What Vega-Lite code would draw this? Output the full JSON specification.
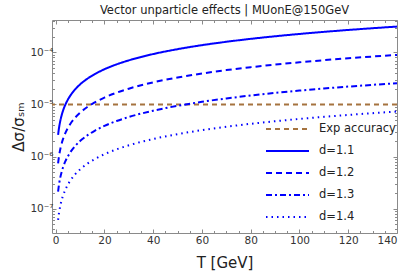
{
  "$schema": "https://vega.github.io/schema/vega-lite/v6.json",
  "width": 345,
  "height": 213,
  "autosize": "none",
  "padding": {"left": 52, "top": 20, "right": 10, "bottom": 43},
  "title": {"text": "Vector unparticle effects | MUonE@150GeV", "fontSize": 11.5, "font": "DejaVu Sans", "fontWeight": "normal", "color": "#222", "anchor": "middle", "frame": "group", "offset": 3},
  "config": {
    "view": {"stroke": "#8a8a8a", "strokeWidth": 1},
    "font": "DejaVu Sans",
    "axis": {"domain": false, "grid": false, "labelFont": "DejaVu Sans", "labelColor": "#333", "labelFontSize": 10.5, "tickColor": "#8a8a8a", "titleFont": "DejaVu Sans", "titleFontWeight": "normal", "titleColor": "#222", "titleFontSize": 15}
  },
  "datasets": {
    "curves": [
      {"T": 1, "v": 2.60e-6, "series": "d=1.1"},
      {"T": 1.25, "v": 3.23e-6, "series": "d=1.1"},
      {"T": 1.5, "v": 3.85e-6, "series": "d=1.1"},
      {"T": 2, "v": 5.09e-6, "series": "d=1.1"},
      {"T": 2.5, "v": 6.32e-6, "series": "d=1.1"},
      {"T": 3, "v": 7.55e-6, "series": "d=1.1"},
      {"T": 4, "v": 9.98e-6, "series": "d=1.1"},
      {"T": 5, "v": 1.239e-5, "series": "d=1.1"},
      {"T": 6, "v": 1.478e-5, "series": "d=1.1"},
      {"T": 8, "v": 1.954e-5, "series": "d=1.1"},
      {"T": 10, "v": 2.426e-5, "series": "d=1.1"},
      {"T": 13, "v": 3.130e-5, "series": "d=1.1"},
      {"T": 16, "v": 3.828e-5, "series": "d=1.1"},
      {"T": 20, "v": 4.753e-5, "series": "d=1.1"},
      {"T": 25, "v": 5.901e-5, "series": "d=1.1"},
      {"T": 30, "v": 7.044e-5, "series": "d=1.1"},
      {"T": 40, "v": 9.311e-5, "series": "d=1.1"},
      {"T": 50, "v": 1.156e-4, "series": "d=1.1"},
      {"T": 60, "v": 1.380e-4, "series": "d=1.1"},
      {"T": 70, "v": 1.602e-4, "series": "d=1.1"},
      {"T": 80, "v": 1.824e-4, "series": "d=1.1"},
      {"T": 90, "v": 2.044e-4, "series": "d=1.1"},
      {"T": 100, "v": 2.265e-4, "series": "d=1.1"},
      {"T": 110, "v": 2.484e-4, "series": "d=1.1"},
      {"T": 120, "v": 2.703e-4, "series": "d=1.1"},
      {"T": 130, "v": 2.921e-4, "series": "d=1.1"},
      {"T": 140, "v": 3.138e-4, "series": "d=1.1"},
      {"T": 1, "v": 7.43e-7, "series": "d=1.2"},
      {"T": 1.25, "v": 9.22e-7, "series": "d=1.2"},
      {"T": 1.5, "v": 1.10e-6, "series": "d=1.2"},
      {"T": 2, "v": 1.455e-6, "series": "d=1.2"},
      {"T": 2.5, "v": 1.807e-6, "series": "d=1.2"},
      {"T": 3, "v": 2.156e-6, "series": "d=1.2"},
      {"T": 4, "v": 2.851e-6, "series": "d=1.2"},
      {"T": 5, "v": 3.539e-6, "series": "d=1.2"},
      {"T": 6, "v": 4.224e-6, "series": "d=1.2"},
      {"T": 8, "v": 5.584e-6, "series": "d=1.2"},
      {"T": 10, "v": 6.933e-6, "series": "d=1.2"},
      {"T": 13, "v": 8.942e-6, "series": "d=1.2"},
      {"T": 16, "v": 1.094e-5, "series": "d=1.2"},
      {"T": 20, "v": 1.358e-5, "series": "d=1.2"},
      {"T": 25, "v": 1.686e-5, "series": "d=1.2"},
      {"T": 30, "v": 2.013e-5, "series": "d=1.2"},
      {"T": 40, "v": 2.660e-5, "series": "d=1.2"},
      {"T": 50, "v": 3.303e-5, "series": "d=1.2"},
      {"T": 60, "v": 3.942e-5, "series": "d=1.2"},
      {"T": 70, "v": 4.578e-5, "series": "d=1.2"},
      {"T": 80, "v": 5.211e-5, "series": "d=1.2"},
      {"T": 90, "v": 5.841e-5, "series": "d=1.2"},
      {"T": 100, "v": 6.470e-5, "series": "d=1.2"},
      {"T": 110, "v": 7.097e-5, "series": "d=1.2"},
      {"T": 120, "v": 7.722e-5, "series": "d=1.2"},
      {"T": 130, "v": 8.346e-5, "series": "d=1.2"},
      {"T": 140, "v": 8.967e-5, "series": "d=1.2"},
      {"T": 1, "v": 2.12e-7, "series": "d=1.3"},
      {"T": 1.25, "v": 2.64e-7, "series": "d=1.3"},
      {"T": 1.5, "v": 3.15e-7, "series": "d=1.3"},
      {"T": 2, "v": 4.16e-7, "series": "d=1.3"},
      {"T": 2.5, "v": 5.16e-7, "series": "d=1.3"},
      {"T": 3, "v": 6.16e-7, "series": "d=1.3"},
      {"T": 4, "v": 8.14e-7, "series": "d=1.3"},
      {"T": 5, "v": 1.011e-6, "series": "d=1.3"},
      {"T": 6, "v": 1.207e-6, "series": "d=1.3"},
      {"T": 8, "v": 1.595e-6, "series": "d=1.3"},
      {"T": 10, "v": 1.981e-6, "series": "d=1.3"},
      {"T": 13, "v": 2.555e-6, "series": "d=1.3"},
      {"T": 16, "v": 3.125e-6, "series": "d=1.3"},
      {"T": 20, "v": 3.880e-6, "series": "d=1.3"},
      {"T": 25, "v": 4.818e-6, "series": "d=1.3"},
      {"T": 30, "v": 5.750e-6, "series": "d=1.3"},
      {"T": 40, "v": 7.601e-6, "series": "d=1.3"},
      {"T": 50, "v": 9.437e-6, "series": "d=1.3"},
      {"T": 60, "v": 1.1263e-5, "series": "d=1.3"},
      {"T": 70, "v": 1.308e-5, "series": "d=1.3"},
      {"T": 80, "v": 1.489e-5, "series": "d=1.3"},
      {"T": 90, "v": 1.669e-5, "series": "d=1.3"},
      {"T": 100, "v": 1.849e-5, "series": "d=1.3"},
      {"T": 110, "v": 2.028e-5, "series": "d=1.3"},
      {"T": 120, "v": 2.206e-5, "series": "d=1.3"},
      {"T": 130, "v": 2.385e-5, "series": "d=1.3"},
      {"T": 140, "v": 2.562e-5, "series": "d=1.3"},
      {"T": 1, "v": 6.06e-8, "series": "d=1.4"},
      {"T": 1.25, "v": 7.53e-8, "series": "d=1.4"},
      {"T": 1.5, "v": 8.99e-8, "series": "d=1.4"},
      {"T": 2, "v": 1.188e-7, "series": "d=1.4"},
      {"T": 2.5, "v": 1.475e-7, "series": "d=1.4"},
      {"T": 3, "v": 1.761e-7, "series": "d=1.4"},
      {"T": 4, "v": 2.328e-7, "series": "d=1.4"},
      {"T": 5, "v": 2.890e-7, "series": "d=1.4"},
      {"T": 6, "v": 3.449e-7, "series": "d=1.4"},
      {"T": 8, "v": 4.559e-7, "series": "d=1.4"},
      {"T": 10, "v": 5.661e-7, "series": "d=1.4"},
      {"T": 13, "v": 7.301e-7, "series": "d=1.4"},
      {"T": 16, "v": 8.931e-7, "series": "d=1.4"},
      {"T": 20, "v": 1.109e-6, "series": "d=1.4"},
      {"T": 25, "v": 1.377e-6, "series": "d=1.4"},
      {"T": 30, "v": 1.643e-6, "series": "d=1.4"},
      {"T": 40, "v": 2.172e-6, "series": "d=1.4"},
      {"T": 50, "v": 2.697e-6, "series": "d=1.4"},
      {"T": 60, "v": 3.219e-6, "series": "d=1.4"},
      {"T": 70, "v": 3.738e-6, "series": "d=1.4"},
      {"T": 80, "v": 4.255e-6, "series": "d=1.4"},
      {"T": 90, "v": 4.770e-6, "series": "d=1.4"},
      {"T": 100, "v": 5.283e-6, "series": "d=1.4"},
      {"T": 110, "v": 5.795e-6, "series": "d=1.4"},
      {"T": 120, "v": 6.305e-6, "series": "d=1.4"},
      {"T": 130, "v": 6.814e-6, "series": "d=1.4"},
      {"T": 140, "v": 7.322e-6, "series": "d=1.4"}
    ],
    "accuracy": [{"series": "Exp accuracy", "v": 1e-5}]
  },
  "resolve": {"axis": {"x": "independent", "y": "independent"}},
  "layer": [
    {
      "data": {"name": "accuracy"},
      "mark": {"type": "rule", "strokeWidth": 2},
      "encoding": {
        "y": {"field": "v", "type": "quantitative", "scale": {"type": "log", "domain": [3.4e-8, 4.2e-4], "nice": false}, "axis": null},
        "color": {"field": "series", "type": "nominal", "scale": {"domain": ["Exp accuracy", "d=1.1", "d=1.2", "d=1.3", "d=1.4"], "range": ["#a5733f", "#0000ff", "#0000ff", "#0000ff", "#0000ff"]}, "legend": {"title": null, "orient": "none", "legendX": 229.5, "legendY": 103, "symbolType": "M-4.3,0L4.3,0", "symbolSize": 100, "symbolStrokeWidth": 2, "labelFontSize": 11.5, "labelColor": "#222", "labelOffset": 25.5, "rowPadding": 10}},
        "strokeDash": {"field": "series", "type": "nominal", "scale": {"domain": ["Exp accuracy", "d=1.1", "d=1.2", "d=1.3", "d=1.4"], "range": [[5, 4], [1, 0], [6, 4], [6, 3, 2, 3], [1.5, 4]]}, "legend": {"title": null, "orient": "none", "legendX": 229.5, "legendY": 103, "symbolType": "M-4.3,0L4.3,0", "symbolSize": 100, "symbolStrokeWidth": 2, "labelFontSize": 11.5, "labelColor": "#222", "labelOffset": 25.5, "rowPadding": 10}}
      }
    },
    {
      "data": {"name": "curves"},
      "mark": {"type": "line", "strokeWidth": 2, "interpolate": "monotone", "clip": true},
      "encoding": {
        "x": {"field": "T", "type": "quantitative", "title": "T [GeV]", "scale": {"domain": [-1.5, 140], "nice": false, "zero": false},
          "axis": {"orient": "bottom", "values": [0,5,10,15,20,25,30,35,40,45,50,55,60,65,70,75,80,85,90,95,100,105,110,115,120,125,130,135,140], "labelExpr": "datum.value % 20 === 0 ? datum.label : ''", "tickSize": {"condition": {"test": "datum.value % 20 === 0", "value": -4}, "value": -2.5}, "labelPadding": 6, "titlePadding": 10}},
        "y": {"field": "v", "type": "quantitative", "title": "Δσ/σₛₘ", "scale": {"type": "log", "domain": [3.4e-8, 4.2e-4], "nice": false},
          "axis": {"orient": "left", "values": [4e-8,5e-8,6e-8,7e-8,8e-8,9e-8,1e-7,2e-7,3e-7,4e-7,5e-7,6e-7,7e-7,8e-7,9e-7,1e-6,2e-6,3e-6,4e-6,5e-6,6e-6,7e-6,8e-6,9e-6,1e-5,2e-5,3e-5,4e-5,5e-5,6e-5,7e-5,8e-5,9e-5,1e-4,2e-4,3e-4,4e-4],
            "labelExpr": "datum.value == 1e-7 ? '10⁻⁷' : datum.value == 1e-6 ? '10⁻⁶' : datum.value == 1e-5 ? '10⁻⁵' : datum.value == 1e-4 ? '10⁻⁴' : ''",
            "tickSize": {"condition": {"test": "datum.value == 1e-7 || datum.value == 1e-6 || datum.value == 1e-5 || datum.value == 1e-4", "value": -4}, "value": -2.5}, "labelPadding": 3, "titlePadding": 3}},
        "color": {"field": "series", "type": "nominal"},
        "strokeDash": {"field": "series", "type": "nominal"}
      }
    },
    {
      "data": {"name": "curves"},
      "mark": {"type": "point", "opacity": 0},
      "encoding": {
        "x": {"field": "T", "type": "quantitative", "scale": {"domain": [-1.5, 140], "nice": false, "zero": false},
          "axis": {"orient": "top", "title": null, "labels": false, "values": [0,5,10,15,20,25,30,35,40,45,50,55,60,65,70,75,80,85,90,95,100,105,110,115,120,125,130,135,140], "tickSize": {"condition": {"test": "datum.value % 20 === 0", "value": -4}, "value": -2.5}}},
        "y": {"field": "v", "type": "quantitative", "scale": {"type": "log", "domain": [3.4e-8, 4.2e-4], "nice": false},
          "axis": {"orient": "right", "title": null, "labels": false, "values": [4e-8,5e-8,6e-8,7e-8,8e-8,9e-8,1e-7,2e-7,3e-7,4e-7,5e-7,6e-7,7e-7,8e-7,9e-7,1e-6,2e-6,3e-6,4e-6,5e-6,6e-6,7e-6,8e-6,9e-6,1e-5,2e-5,3e-5,4e-5,5e-5,6e-5,7e-5,8e-5,9e-5,1e-4,2e-4,3e-4,4e-4],
            "tickSize": {"condition": {"test": "datum.value == 1e-7 || datum.value == 1e-6 || datum.value == 1e-5 || datum.value == 1e-4", "value": -4}, "value": -2.5}}}
      }
    }
  ]
}
